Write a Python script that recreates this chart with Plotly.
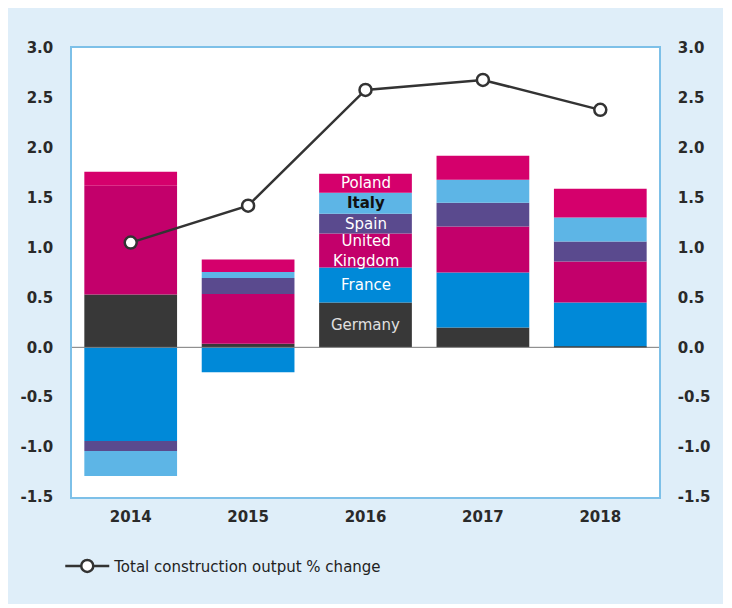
import plotly.graph_objects as go

years = ["2014", "2015", "2016", "2017", "2018"]
germany = [0.53, 0.035, 0.45, 0.20, 0.01]
france = [-0.94, -0.25, 0.35, 0.55, 0.44]
uk = [1.09, 0.50, 0.34, 0.46, 0.41]
spain = [-0.10, 0.16, 0.20, 0.24, 0.20]
italy = [-0.25, 0.06, 0.21, 0.23, 0.24]
poland = [0.14, 0.125, 0.19, 0.24, 0.29]
total = [1.05, 1.42, 2.58, 2.68, 2.38]

series = [
    ("Germany", germany, "#383838"),
    ("France", france, "#0089D8"),
    ("United<br>Kingdom", uk, "#C3006B"),
    ("Spain", spain, "#5A4A8E"),
    ("Italy", italy, "#5DB5E6"),
    ("Poland", poland, "#D5006C"),
]
label_colors = {"Germany": "#E0E0E0", "France": "white", "United<br>Kingdom": "white",
                "Spain": "white", "Italy": "#111111", "Poland": "white"}

fig = go.Figure()
for name, vals, col in series:
    fig.add_trace(go.Bar(x=years, y=vals, name=name, marker_color=col,
                         marker_line_width=0, showlegend=False, hoverinfo="skip"))

fig.add_trace(go.Scatter(x=years, y=total, mode="lines+markers", yaxis="y2",
                         name="Total construction output % change",
                         line=dict(color="#333333", width=2.5),
                         marker=dict(symbol="circle", size=12, color="white",
                                     line=dict(color="#333333", width=2.5))))

# labels inside the 2016 bar (x given as category index)
idx = years.index("2016")
cum = 0.0
annotations = []
for name, vals, col in series:
    v = vals[idx]
    mid = cum + v / 2
    cum += v
    label = "<b>" + name + "</b>" if name == "Italy" else name
    annotations.append(dict(x=idx, y=mid, xref="x", yref="y", text=label, showarrow=False,
                            font=dict(family="DejaVu Sans", size=15, color=label_colors[name]),
                            align="center"))

ticks = [-1.5, -1.0, -0.5, 0.0, 0.5, 1.0, 1.5, 2.0, 2.5, 3.0]
tick_text = ["<b>" + f"{t:.1f}" + "</b>" for t in ticks]
year_text = ["<b>" + y + "</b>" for y in years]
tickfont = dict(family="DejaVu Sans", size=15, color="#2a2a2a")

fig.update_layout(
    width=715, height=596,
    margin=dict(l=62, r=63, t=40, b=107),
    paper_bgcolor="#DFEEF9",
    plot_bgcolor="white",
    barmode="relative",
    bargap=0.21,
    xaxis=dict(type="category", range=[-0.5, len(years) - 0.5], tickvals=years, ticktext=year_text,
               showgrid=False, showline=True, mirror=True, linecolor="#7DC0E8",
               linewidth=1.5, ticks="outside", ticklen=5, tickcolor="rgba(0,0,0,0)",
               tickfont=tickfont, tickangle=0),
    yaxis=dict(range=[-1.5, 3.0], tickvals=ticks, ticktext=tick_text, showgrid=False,
               zeroline=False, showline=True, linecolor="#7DC0E8", linewidth=1.5,
               tickfont=tickfont, ticks="outside", ticklen=14, tickcolor="rgba(0,0,0,0)"),
    yaxis2=dict(range=[-1.5, 3.0], tickvals=ticks, ticktext=tick_text, overlaying="y", side="right",
                showgrid=False, zeroline=False, showline=True, linecolor="#7DC0E8", linewidth=1.5,
                tickfont=tickfont, ticks="outside", ticklen=14, tickcolor="rgba(0,0,0,0)"),
    legend=dict(x=-0.02, y=-0.154, xanchor="left", yanchor="middle", orientation="h",
                bgcolor="rgba(0,0,0,0)", itemwidth=44,
                font=dict(family="DejaVu Sans", size=15, color="#222222")),
    showlegend=True,
    annotations=annotations,
    shapes=[
        dict(type="line", xref="paper", yref="y", x0=0, x1=1, y0=0, y1=0,
             line=dict(color="#7a7a7a", width=1), layer="above"),
    ],
)

fig.write_html("out.html")
